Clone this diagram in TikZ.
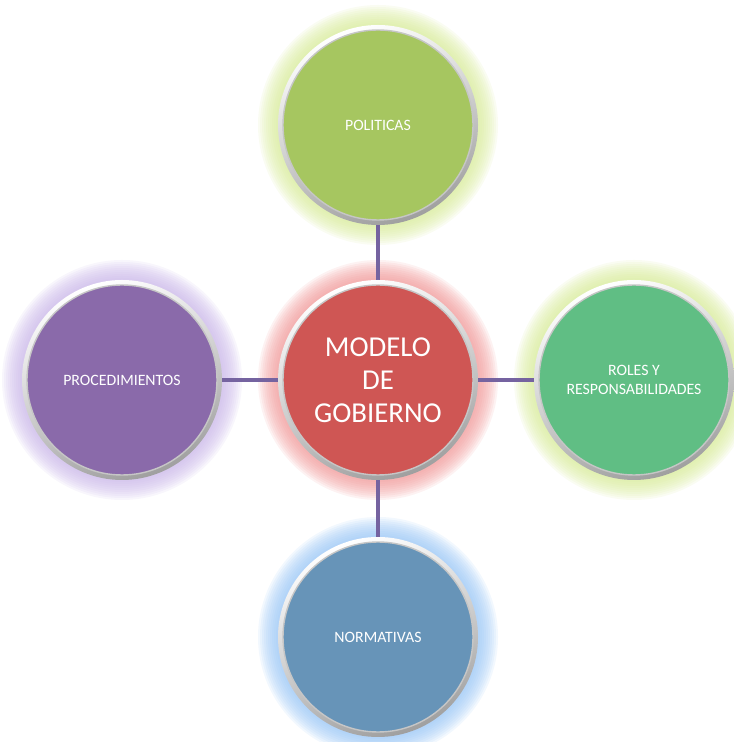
\documentclass[tikz,border=0pt]{standalone}
\usepackage{fontspec}
\setmainfont{Carlito}
\usepackage{tikz}
\usetikzlibrary{backgrounds}
\usetikzlibrary{shapes,positioning}

\definecolor{verdeolivo}{RGB}{166,198,96}
\definecolor{rojomodelo}{RGB}{207,86,84}
\definecolor{morado}{RGB}{138,106,170}
\definecolor{verdemar}{RGB}{96,190,132}
\definecolor{azulacero}{RGB}{103,148,184}
\definecolor{brilloverde}{RGB}{214,234,150}
\definecolor{brillorojo}{RGB}{240,150,150}
\definecolor{brillomorado}{RGB}{200,180,232}
\definecolor{brilloazul}{RGB}{150,196,245}
\definecolor{enlace}{RGB}{117,99,160}

\tikzset{
  bola/.style={circle, minimum size=1.9cm, inner sep=0pt, align=center,
    text=white, draw=gray!45, line width=0.4pt,
    font=\fontsize{4.5}{5.5}\selectfont},
  centro/.style={bola, font=\fontsize{8.2}{9.4}\selectfont},
  conector/.style={line width=0.04cm, draw=enlace},
  anillo/.style={top color=white, bottom color=gray!75, shading angle=20}
}

\begin{document}
\begin{tikzpicture}

  \useasboundingbox (0,0) rectangle (7.34,7.42);

  \node [centro, fill=rojomodelo] (modelo) at (3.78,3.62) {MODELO\\DE\\GOBIERNO};
  \node [bola, fill=verdeolivo] (politicas) at (3.78,6.17) {POLITICAS};
  \node [bola, fill=morado] (procedimientos) at (1.22,3.62) {PROCEDIMIENTOS};
  \node [bola, fill=verdemar] (roles) at (6.34,3.62) {ROLES Y\\RESPONSABILIDADES};
  \node [bola, fill=azulacero] (normativas) at (3.78,1.05) {NORMATIVAS};

  \begin{scope}[on background layer]
    % brillo alrededor de cada bola
    \foreach \n/\c in {modelo/brillorojo, politicas/brilloverde,
      procedimientos/brillomorado, roles/brilloverde, normativas/brilloazul}
      \foreach \k in {1,...,10}
        \fill [\c, opacity=0.12] (\n.center) circle ({1.0+0.02*\k});

    \draw [conector] (politicas) -- (modelo);
    \draw [conector] (procedimientos) -- (modelo);
    \draw [conector] (modelo) -- (roles);
    \draw [conector] (modelo) -- (normativas);

    % aros plateados
    \foreach \n in {modelo, politicas, procedimientos, roles, normativas}
      \shade [anillo] (\n.center) circle (1.0);
  \end{scope}

\end{tikzpicture}
\end{document}
